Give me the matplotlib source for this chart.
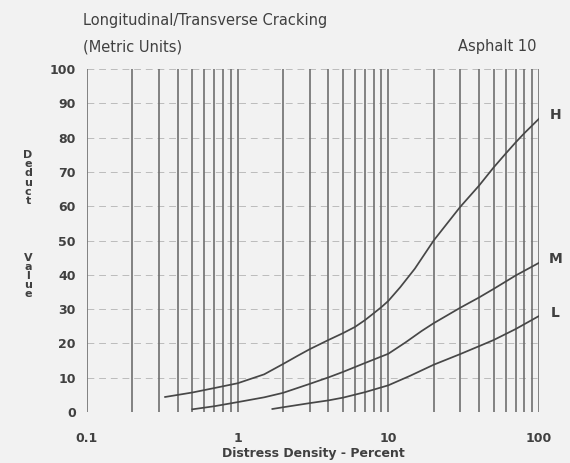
import matplotlib.pyplot as plt
import numpy as np

# readings (distress density %, deduct value)
h_x = [0.33, 0.5, 0.7, 1, 1.5, 2, 2.5, 3, 4, 5, 6, 7, 8, 9, 10, 12, 15, 20, 25, 30, 40, 50, 60, 70, 80, 100]
h_y = [4.4, 5.7, 7.0, 8.4, 11.0, 14.0, 16.4, 18.3, 21.0, 23.0, 24.8, 26.8, 28.8, 30.6, 32.4, 36.4, 41.8, 50.0, 55.4, 59.8, 66.0, 71.3, 75.3, 78.6, 81.3, 85.5]

m_x = [0.5, 0.7, 1, 1.5, 2, 3, 4, 5, 7, 10, 13, 16.6, 20, 30, 40, 50, 70, 100]
m_y = [0.8, 1.7, 2.9, 4.3, 5.6, 8.2, 10.1, 11.7, 14.3, 17.0, 20.3, 23.6, 25.9, 30.4, 33.4, 35.9, 39.8, 43.5]

l_x = [1.7, 2, 3, 4, 5, 7, 10, 14, 20, 30, 40, 50, 70, 100]
l_y = [0.9, 1.4, 2.6, 3.4, 4.2, 5.8, 7.8, 10.6, 13.8, 16.9, 19.2, 21.0, 24.2, 28.0]

severity = ["H", "M", "L"]
x_ticks = [0.1, 1, 10, 100]
x_tick_labels = ["0.1", "1", "10", "100"]
y_ticks = [0, 10, 20, 30, 40, 50, 60, 70, 80, 90, 100]

bg = "#f2f2f2"
ink = "#404040"

fig = plt.figure(figsize=(5.7, 4.63), dpi=100, facecolor=bg)
ax = fig.add_axes([0.1526, 0.110, 0.793, 0.741], facecolor=bg)

ax.set_xscale("log")
ax.set_xlim(0.1, 100)
ax.set_ylim(0, 100)

# log paper grid: solid verticals, dashed horizontals
grid_x = [m * 10.0 ** e for e in (-1, 0, 1) for m in range(1, 10)] + [100]
ax.vlines(grid_x, 0, 100, colors="#6e6e6e", lw=1.2, zorder=1)
ax.hlines(y_ticks, 0.1, 100, colors="#bcbcbc", lw=0.7, linestyles=(0, (7, 5)), zorder=0)

for xs, ys in [(h_x, h_y), (m_x, m_y), (l_x, l_y)]:
    ax.plot(xs, ys, color="#474747", lw=1.25, zorder=3, solid_joinstyle="round")

for name, ys in zip(severity, [h_y, m_y, l_y]):
    ax.text(128, ys[-1] + 1, name, fontsize=10, fontweight="bold", color=ink,
            va="center", ha="center", clip_on=False)

for s in ax.spines.values():
    s.set_visible(False)
ax.set_xticks(x_ticks)
ax.set_xticklabels(x_tick_labels)
ax.xaxis.set_minor_locator(plt.NullLocator())
ax.set_yticks(y_ticks)
ax.tick_params(length=0, labelsize=9, colors=ink)
ax.tick_params(axis="x", pad=14)
ax.tick_params(axis="y", pad=8)
for lab in ax.get_xticklabels() + ax.get_yticklabels():
    lab.set_fontweight("bold")

ax.set_xlabel("Distress Density - Percent", fontsize=9, fontweight="bold", color=ink, labelpad=2)

fig.text(83 / 570, 1 - 20 / 463, "Longitudinal/Transverse Cracking", fontsize=10.5,
         color=ink, va="center", ha="left")
fig.text(83 / 570, 1 - 47 / 463, "(Metric Units)", fontsize=10.5, color=ink,
         va="center", ha="left")
fig.text(536 / 570, 1 - 47 / 463, "Asphalt 10", fontsize=10.5, color=ink,
         va="center", ha="right")

# stacked axis title letters
fig.text(28 / 570, 1 - 178 / 463, "\n".join("Deduct"), fontsize=8, fontweight="bold",
         color=ink, va="center", ha="center", multialignment="center", linespacing=0.88)
fig.text(28 / 570, 1 - 276 / 463, "\n".join("Value"), fontsize=8, fontweight="bold",
         color=ink, va="center", ha="center", multialignment="center", linespacing=0.88)

fig.savefig("out.png", dpi=100, facecolor=bg)
